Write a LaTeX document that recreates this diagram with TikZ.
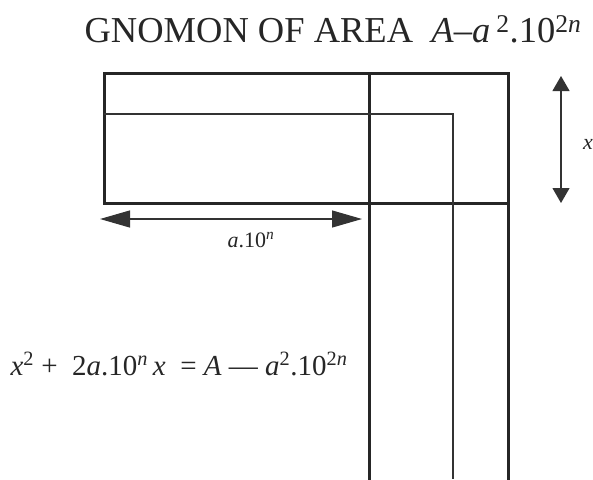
\documentclass[tikz,border=0pt]{standalone}
\usepackage{fontspec}
\setmainfont{Liberation Serif}
\usetikzlibrary{arrows.meta, positioning}

\begin{document}
\begin{tikzpicture}[
  x=1pt, y=-1pt,
  heavy/.style={line width=3pt, draw=black!85, line cap=rect},
  light/.style={line width=1.2pt, draw=black!80},
  span/.style={line width=1.2pt, draw=black!80, {Triangle[length=30pt, width=17pt]}-{Triangle[length=30pt, width=17pt]}},
  rise/.style={line width=1.2pt, draw=black!80, {Triangle[length=15pt, width=17pt]}-{Triangle[length=15pt, width=17pt]}},
  big/.style={font=\fontsize{36.5}{42}\selectfont, text=black!85, inner sep=0pt},
  mid/.style={font=\fontsize{29}{34}\selectfont, text=black!85, inner sep=0pt},
  small/.style={font=\fontsize{22}{26}\selectfont, text=black!85, inner sep=0pt}
]
\useasboundingbox (0,0) rectangle (593,479);
\def\xl{104} \def\xm{369} \def\xt{453} \def\xr{508}
\def\yt{73} \def\ys{114} \def\yb{203} \def\ye{479}
\draw[heavy] (\xl,\yb) -- (\xl,\yt) -- (\xr,\yt) -- (\xr,\ye);
\draw[heavy] (\xl,\yb) -- (\xr,\yb);
\draw[heavy] (\xm,\yt) -- (\xm,\ye);
\draw[light] (\xl,\ys) -- (\xt,\ys) -- (\xt,\ye);
\coordinate (spanL) at (100,219);
\coordinate (spanR) at (362,219);
\draw[span] (spanL) -- (spanR);
\coordinate (riseT) at (561,76);
\coordinate (riseB) at (561,203);
\draw[rise] (riseT) -- (riseB);
\node[big, anchor=base] (title) at (333,42)
  {GNOMON OF AREA\hspace{0.5em}\textit{A}–\textit{a}\,\textsuperscript{2}.10\textsuperscript{2\textit{n}}};
\node[small, anchor=base] (base) at (251,247) {\textit{a}.10\textsuperscript{\textit{n}}};
\node[small, anchor=base] (side) at (588,149) {\textit{x}};
\node[mid, anchor=base] (eqn) at (179,375)
  {\textit{x}\textsuperscript{2} + \ 2\textit{a}.10\textsuperscript{\textit{n}}\,\textit{x} \ = \textit{A} — \textit{a}\textsuperscript{2}.10\textsuperscript{2\textit{n}}};
\end{tikzpicture}
\end{document}
